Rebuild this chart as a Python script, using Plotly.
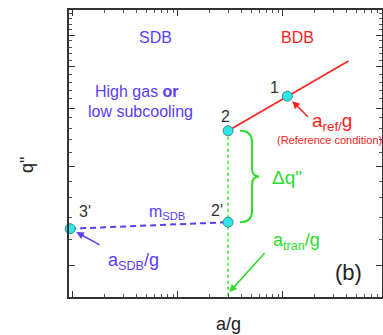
import numpy as np
import plotly.graph_objects as go

# ---- data ----
sdb_x = [0.94, 30.0]          # points 3' and 2'
sdb_y = [1.29, 1.35]
bdb_x = [30.0, 110.0, 420.0]  # point 2, point 1, line end
bdb_y = [2.56, 3.26, 4.17]
pts_x = [0.94, 30.0, 30.0, 110.0]
pts_y = [1.29, 1.35, 2.56, 3.26]
a_tran = 30.0

x_major = [1, 10, 100]
x_minor = [m * d for d in (0.1, 1, 10, 100) for m in range(2, 10)]
y_major = [1, 2, 3, 4, 5]
y_minor = [round(v, 1) for v in np.arange(0.8, 6.0, 0.2) if round(v, 1) not in y_major]

# ---- layout constants ----
W, H = 383, 335
ML, MR, MT, MB = 69, 1, 10, 38
PW, PH = W - ML - MR, H - MT - MB
XR = [-0.038, 2.943]
YR = [np.log10(0.8), np.log10(5.96)]

BLUE = "#5a3cff"
RED = "#ff2020"
GREEN = "#2ddc2d"
CYAN = "#2ee6e6"
FONT = "Arial, Liberation Sans, sans-serif"


def px(v, dx=0):
    return (np.log10(v) - XR[0]) / (XR[1] - XR[0]) + dx / PW


def py(v, dy=0):
    return (np.log10(v) - YR[0]) / (YR[1] - YR[0]) - dy / PH


fig = go.Figure()

# dotted transition line
fig.add_trace(go.Scatter(x=[a_tran, a_tran], y=[bdb_y[0], 0.8], mode="lines",
                         line=dict(color=GREEN, width=1.5, dash="dot"),
                         hoverinfo="skip", showlegend=False))
# SDB dashed line
fig.add_trace(go.Scatter(x=sdb_x, y=sdb_y, mode="lines",
                         line=dict(color=BLUE, width=2, dash="6px,4px"),
                         showlegend=False))
# BDB line
fig.add_trace(go.Scatter(x=bdb_x, y=bdb_y, mode="lines",
                         line=dict(color=RED, width=1.6), showlegend=False))
# points
fig.add_trace(go.Scatter(x=pts_x, y=pts_y, mode="markers", cliponaxis=False,
                         marker=dict(color=CYAN, size=10,
                                     line=dict(color="#3a8a8a", width=1)),
                         showlegend=False))
# invisible trace for the mirrored (top/right) tick axes
fig.add_trace(go.Scatter(x=[1], y=[1], xaxis="x2", yaxis="y2", mode="markers",
                         marker=dict(opacity=0), hoverinfo="skip", showlegend=False))

# curly brace (Δq")
xl, xm, xt = px(a_tran, 12), px(a_tran, 24), px(a_tran, 31)
yt, yb = py(bdb_y[0]), py(sdb_y[1])
ym = (yt + yb) / 2
r = 12 / PH
path = (f"M {xl},{yt} Q {xm},{yt} {xm},{yt - r} "
        f"L {xm},{ym + 8 / PH} Q {xm},{ym} {xt},{ym} "
        f"Q {xm},{ym} {xm},{ym - 8 / PH} "
        f"L {xm},{yb + r} Q {xm},{yb} {xl},{yb}")
fig.add_shape(type="path", path=path, xref="paper", yref="paper",
              line=dict(color=GREEN, width=2))


def ppx(p):
    return (p - ML) / PW


def ppy(p):
    return 1 - (p - MT) / PH


def txt(text, x, y, color, size, **kw):
    fig.add_annotation(text=text, x=ppx(x), y=ppy(y), xref="paper", yref="paper",
                       showarrow=False, font=dict(color=color, size=size, family=FONT),
                       xanchor="center", yanchor="middle", **kw)


txt("SDB", 155, 37, BLUE, 16)
txt("BDB", 297, 37, RED, 16)
txt("High gas <b>or</b>", 137, 91, BLUE, 16)
txt("low subcooling", 140, 111, BLUE, 16)
txt("1", 274, 87, "#333333", 16)
txt("2", 225, 116, "#333333", 16)
txt("2'", 217, 210, "#333333", 16)
txt("3'", 85, 211, "#333333", 16)
txt("m<sub>SDB</sub>", 167, 212, BLUE, 16)
txt("a<sub>SDB</sub>/g", 133, 261, BLUE, 18)
txt("a<sub>tran</sub>/g", 296, 241, GREEN, 18)
txt("a<sub>ref/</sub>g", 332, 122, RED, 19)
txt("(Reference condition)", 329, 140, RED, 11)
txt("Δq\"", 287, 177, GREEN, 19)
txt("(b)", 348, 272, "#222222", 22)
txt("a/g", 228, 324, "#222222", 18)
txt("q\"", 27, 165, "#222222", 18, textangle=-90)


# arrows
def arrow(xv, yv, axp, ayp, color, standoff=7):
    fig.add_annotation(x=np.log10(xv), y=np.log10(yv), xref="x", yref="y",
                       ax=axp, ay=ayp, text="", showarrow=True, arrowhead=2,
                       arrowsize=1, arrowwidth=1.5, arrowcolor=color, standoff=standoff)


arrow(sdb_x[0], sdb_y[0], 31, 17, BLUE)
arrow(bdb_x[1], bdb_y[1], 22, 22, RED)
fig.add_annotation(x=np.log10(a_tran), y=0.012, xref="x", yref="paper",
                   ax=38, ay=-42, text="", showarrow=True, arrowhead=2,
                   arrowsize=1, arrowwidth=1.5, arrowcolor=GREEN, standoff=2)

axis_common = dict(showgrid=False, zeroline=False, showline=True,
                   linecolor="#333333", linewidth=2, ticks="inside", ticklen=6,
                   tickwidth=1.3, tickcolor="#333333", showticklabels=False,
                   automargin=False)
xminor = dict(tickmode="array", tickvals=x_minor, ticks="inside",
              ticklen=3, tickwidth=1, tickcolor="#555555")
yminor = dict(tickmode="array", tickvals=y_minor, ticks="inside",
              ticklen=3, tickwidth=1, tickcolor="#555555")

fig.update_layout(
    xaxis=dict(type="log", range=XR, tickmode="array", tickvals=x_major,
               minor=xminor, **axis_common),
    yaxis=dict(type="log", range=YR, tickmode="array", tickvals=y_major,
               minor=yminor, **axis_common),
    xaxis2=dict(type="log", range=XR, tickmode="array", tickvals=x_major,
                minor=xminor, overlaying="x", side="top", anchor="y2", **axis_common),
    yaxis2=dict(type="log", range=YR, tickmode="array", tickvals=y_major,
                minor=yminor, overlaying="y", side="right", anchor="x2", **axis_common),
    width=W, height=H, margin=dict(l=ML, r=MR, t=MT, b=MB),
    paper_bgcolor="white", plot_bgcolor="white",
    font=dict(family=FONT), showlegend=False)

fig.write_html("out.html", config={"displayModeBar": False},
               post_script="document.body.style.margin='0';document.body.style.overflow='hidden';")
